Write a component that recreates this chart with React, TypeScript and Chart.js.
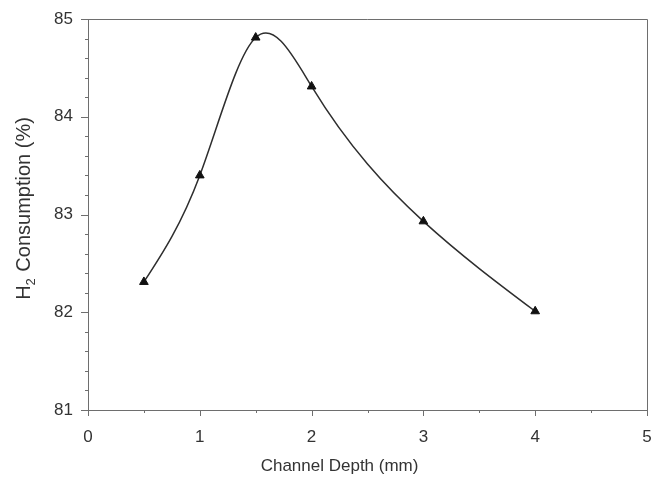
import React, { useEffect, useRef } from "react";
import { Chart, registerables } from "chart.js";

Chart.register(...registerables);

const depths = [0.5, 1, 1.5, 2, 3, 4];
const consumption = [82.31, 83.4, 84.81, 84.31, 82.93, 82.01];
const xMajorTicks = [0, 1, 2, 3, 4, 5];
const xMinorTicks = [0.5, 1.5, 2.5, 3.5, 4.5];
const yMajorTicks = [81, 82, 83, 84, 85];
const yMinorTicks = [81.2, 81.4, 81.6, 81.8, 82.2, 82.4, 82.6, 82.8, 83.2, 83.4, 83.6, 83.8, 84.2, 84.4, 84.6, 84.8];
const xTitle = "Channel Depth (mm)";
const yTitleMain = "H";
const yTitleSub = "2";
const yTitleRest = " Consumption (%)";

const AXIS_COLOR = "#6e6e6e";
const TEXT_COLOR = "#333333";
const LINE_COLOR = "#2e2e2e";
const FONT = "'Liberation Sans', Arial, sans-serif";

// Natural cubic spline second derivatives (data space)
function naturalSplineM(xs: number[], ys: number[]): number[] {
  const n = xs.length;
  const h: number[] = [];
  for (let i = 0; i < n - 1; i++) h.push(xs[i + 1] - xs[i]);
  const a: number[] = new Array(n).fill(0);
  const b: number[] = new Array(n).fill(1);
  const c: number[] = new Array(n).fill(0);
  const d: number[] = new Array(n).fill(0);
  for (let i = 1; i < n - 1; i++) {
    a[i] = h[i - 1];
    b[i] = 2 * (h[i - 1] + h[i]);
    c[i] = h[i];
    d[i] = 6 * ((ys[i + 1] - ys[i]) / h[i] - (ys[i] - ys[i - 1]) / h[i - 1]);
  }
  // Thomas algorithm
  const cp = new Array(n).fill(0);
  const dp = new Array(n).fill(0);
  cp[0] = c[0] / b[0];
  dp[0] = d[0] / b[0];
  for (let i = 1; i < n; i++) {
    const m = b[i] - a[i] * cp[i - 1];
    cp[i] = c[i] / m;
    dp[i] = (d[i] - a[i] * dp[i - 1]) / m;
  }
  const M = new Array(n).fill(0);
  M[n - 1] = dp[n - 1];
  for (let i = n - 2; i >= 0; i--) M[i] = dp[i] - cp[i] * M[i + 1];
  return M;
}

const splinePlugin = {
  id: "splineLine",
  beforeDatasetsDraw(chart: any) {
    const { ctx, scales } = chart;
    const x = scales.x;
    const y = scales.y;
    const M = naturalSplineM(depths, consumption);
    ctx.save();
    ctx.strokeStyle = LINE_COLOR;
    ctx.lineWidth = 1.5;
    ctx.lineJoin = "round";
    ctx.beginPath();
    ctx.moveTo(x.getPixelForValue(depths[0]), y.getPixelForValue(consumption[0]));
    for (let i = 0; i < depths.length - 1; i++) {
      const h = depths[i + 1] - depths[i];
      const s = (consumption[i + 1] - consumption[i]) / h;
      const d0 = s - (h * (2 * M[i] + M[i + 1])) / 6;
      const d1 = s + (h * (M[i] + 2 * M[i + 1])) / 6;
      const c1x = depths[i] + h / 3;
      const c1y = consumption[i] + (d0 * h) / 3;
      const c2x = depths[i + 1] - h / 3;
      const c2y = consumption[i + 1] - (d1 * h) / 3;
      ctx.bezierCurveTo(
        x.getPixelForValue(c1x),
        y.getPixelForValue(c1y),
        x.getPixelForValue(c2x),
        y.getPixelForValue(c2y),
        x.getPixelForValue(depths[i + 1]),
        y.getPixelForValue(consumption[i + 1])
      );
    }
    ctx.stroke();
    ctx.restore();
  },
};

const decorPlugin = {
  id: "decor",
  afterDraw(chart: any) {
    const { ctx, chartArea, scales } = chart;
    const x = scales.x;
    const y = scales.y;
    ctx.save();
    ctx.strokeStyle = AXIS_COLOR;
    ctx.lineWidth = 1;
    ctx.beginPath();
    ctx.moveTo(chartArea.left, chartArea.top + 0.5);
    ctx.lineTo(chartArea.right + 0.5, chartArea.top + 0.5);
    ctx.lineTo(chartArea.right + 0.5, chartArea.bottom);
    ctx.stroke();
    ctx.beginPath();
    xMajorTicks.forEach((v) => {
      const px = Math.round(x.getPixelForValue(v)) + 0.5;
      ctx.moveTo(px, chartArea.bottom);
      ctx.lineTo(px, chartArea.bottom + 6);
    });
    xMinorTicks.forEach((v) => {
      const px = Math.round(x.getPixelForValue(v)) + 0.5;
      ctx.moveTo(px, chartArea.bottom);
      ctx.lineTo(px, chartArea.bottom + 3);
    });
    yMajorTicks.forEach((v) => {
      const py = Math.round(y.getPixelForValue(v)) + 0.5;
      ctx.moveTo(chartArea.left, py);
      ctx.lineTo(chartArea.left - 7, py);
    });
    yMinorTicks.forEach((v) => {
      const py = Math.round(y.getPixelForValue(v)) + 0.5;
      ctx.moveTo(chartArea.left, py);
      ctx.lineTo(chartArea.left - 3, py);
    });
    ctx.stroke();

    ctx.fillStyle = TEXT_COLOR;
    ctx.font = `17px ${FONT}`;
    ctx.textAlign = "center";
    ctx.textBaseline = "middle";
    ctx.fillText(xTitle, chartArea.left + (chartArea.right - chartArea.left) * 0.45, chartArea.bottom + 56);

    const mainFont = `20px ${FONT}`;
    const subFont = `13px ${FONT}`;
    ctx.font = mainFont;
    const wH = ctx.measureText(yTitleMain).width;
    const wRest = ctx.measureText(yTitleRest).width;
    ctx.font = subFont;
    const wSub = ctx.measureText(yTitleSub).width;
    const total = wH + wSub + 1 + wRest;
    const cy = (chartArea.top + chartArea.bottom) / 2 - 6;
    ctx.translate(23, cy);
    ctx.rotate(-Math.PI / 2);
    ctx.textAlign = "left";
    ctx.textBaseline = "alphabetic";
    let pos = -total / 2;
    const base = 7;
    ctx.font = mainFont;
    ctx.fillText(yTitleMain, pos, base);
    pos += wH;
    ctx.font = subFont;
    ctx.fillText(yTitleSub, pos, base + 5);
    pos += wSub + 1;
    ctx.font = mainFont;
    ctx.fillText(yTitleRest, pos, base);
    ctx.restore();
  },
};

export default function App() {
  const ref = useRef<HTMLCanvasElement | null>(null);
  useEffect(() => {
    if (!ref.current) return;
    const chart = new Chart(ref.current, {
      type: "line",
      data: {
        datasets: [
          {
            data: depths.map((d, i) => ({ x: d, y: consumption[i] })),
            showLine: false,
            borderColor: LINE_COLOR,
            backgroundColor: "#111111",
            pointBackgroundColor: "#111111",
            pointBorderColor: "#111111",
            pointStyle: "triangle",
            pointRadius: 5,
            fill: false,
          },
        ],
      },
      options: {
        animation: false,
        responsive: true,
        maintainAspectRatio: false,
        layout: { padding: { top: 19, right: 4, left: 0, bottom: 0 } },
        plugins: { legend: { display: false }, tooltip: { enabled: false } },
        scales: {
          x: {
            type: "linear",
            min: 0,
            max: 5,
            grid: { display: false, drawTicks: false },
            border: { display: true, color: AXIS_COLOR, width: 1 },
            afterTickToLabelConversion: (s: any) => {
              s.ticks = xMajorTicks.map((v) => ({ value: v, label: String(v) }));
            },
            ticks: { padding: 17, color: TEXT_COLOR, font: { family: FONT, size: 17 } },
            title: { display: false },
            afterFit: (s: any) => {
              s.height = 73;
              s.paddingLeft = 0;
              s.paddingRight = 0;
            },
          },
          y: {
            type: "linear",
            min: 81,
            max: 85,
            grid: { display: false, drawTicks: false },
            border: { display: true, color: AXIS_COLOR, width: 1 },
            afterTickToLabelConversion: (s: any) => {
              s.ticks = yMajorTicks.map((v) => ({ value: v, label: String(v) }));
            },
            ticks: { padding: 15, color: TEXT_COLOR, font: { family: FONT, size: 17 } },
            title: { display: false },
            afterFit: (s: any) => {
              s.width = 88;
              s.paddingTop = 0;
              s.paddingBottom = 0;
            },
          },
        },
      },
      plugins: [splinePlugin, decorPlugin],
    } as any);
    return () => chart.destroy();
  }, []);
  return (
    <div style={{ position: "fixed", left: 0, top: 0, width: 653, height: 483, background: "#fff" }}>
      <canvas ref={ref} />
    </div>
  );
}
